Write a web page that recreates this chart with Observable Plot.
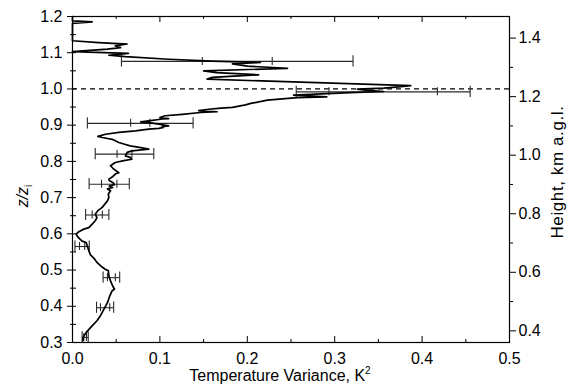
<!DOCTYPE html>
<html>
<head>
<meta charset="utf-8">
<script src="https://cdn.jsdelivr.net/npm/d3@7"></script>
<script src="https://cdn.jsdelivr.net/npm/@observablehq/plot@0.6"></script>
<style>
  html, body { margin: 0; padding: 0; background: #fff; }
  #chart svg { display: block; }
</style>
</head>
<body>
<div id="chart"></div>
<script>
// ---- data ----
const profileZ = [0.305,0.314,0.328,0.341,0.360,0.374,0.392,0.410,0.429,0.443,0.447,0.456,0.470,0.484,0.498,0.503,0.512,0.521,0.533,0.542,0.553,0.567,0.576,0.580,0.590,0.599,0.606,0.613,0.617,0.627,0.636,0.645,0.654,0.664,0.673,0.682,0.691,0.700,0.710,0.719,0.724,0.728,0.732,0.736,0.742,0.747,0.751,0.756,0.765,0.769,0.779,0.788,0.797,0.802,0.806,0.811,0.815,0.825,0.829,0.834,0.838,0.843,0.848,0.852,0.861,0.866,0.869,0.875,0.880,0.884,0.889,0.891,0.894,0.896,0.898,0.903,0.907,0.909,0.912,0.917,0.918,0.921,0.926,0.930,0.935,0.937,0.940,0.944,0.947,0.949,0.956,0.960,0.969,0.976,0.978,0.983,0.987,0.990,0.993,0.996,0.9995,1.002,1.005,1.009,1.027,1.032,1.039,1.045,1.050,1.057,1.063,1.069,1.073,1.077,1.082,1.089,1.093,1.098,1.103,1.110,1.114,1.119,1.124,1.128,1.133,1.181,1.185,1.188,1.200];
const profileVar = [0.012,0.012,0.0157,0.0206,0.028,0.032,0.036,0.040,0.0427,0.0454,0.048,0.046,0.0435,0.0416,0.041,0.037,0.032,0.028,0.0244,0.0206,0.0187,0.0168,0.0157,0.011,0.0065,0.0042,0.0072,0.013,0.0187,0.0225,0.026,0.028,0.026,0.029,0.034,0.037,0.040,0.0416,0.041,0.0435,0.040,0.046,0.042,0.048,0.046,0.042,0.0416,0.045,0.049,0.053,0.047,0.0435,0.049,0.0587,0.068,0.066,0.0606,0.0625,0.068,0.0873,0.078,0.066,0.0587,0.053,0.0454,0.034,0.029,0.0378,0.053,0.072,0.0873,0.0988,0.104,0.1026,0.110,0.0988,0.0873,0.078,0.0873,0.1026,0.110,0.100,0.106,0.1255,0.1465,0.1655,0.1445,0.156,0.170,0.183,0.198,0.204,0.223,0.257,0.291,0.253,0.291,0.318,0.356,0.337,0.326,0.356,0.370,0.387,0.154,0.160,0.213,0.165,0.150,0.246,0.200,0.183,0.215,0.160,0.110,0.0606,0.0416,0.064,0.0,0.040,0.055,0.049,0.0625,0.030,0.0,0.0,0.0225,0.0,0.0];

const errZ      = [0.314, 0.396, 0.479, 0.565, 0.652, 0.737, 0.820, 0.905, 0.992, 1.076];
const errCenter = [0.0145, 0.0373, 0.0445, 0.0110, 0.0283, 0.0420, 0.0595, 0.0775, 0.3555, 0.1885];
const errOuter  = [0.0035, 0.0098, 0.0095, 0.0082, 0.0133, 0.0230, 0.0335, 0.0605, 0.0995, 0.1325];
const errInner  = [0.0015, 0.0053, 0.0045, 0.0030, 0.0058, 0.0088, 0.0085, 0.0110, 0.0620, 0.0400];

const xTicks = [0, 0.1, 0.2, 0.3, 0.4, 0.5];
const xMinorTicks = [0.05, 0.15, 0.25, 0.35, 0.45];
const yTicks = [0.3, 0.4, 0.5, 0.6, 0.7, 0.8, 0.9, 1.0, 1.1, 1.2];
const yMinorTicks = [0.35, 0.45, 0.55, 0.65, 0.75, 0.85, 0.95, 1.05, 1.15];
const heightTicks = [0.4, 0.6, 0.8, 1.0, 1.2, 1.4];
const heightMinorTicks = [0.5, 0.7, 0.9, 1.1, 1.3];
const refLine = [1.0];

// relation between height (km a.g.l.) and z/zi on the right axis
const zAt04 = 0.3322, zPerKm = 0.8082;
const toZ = h => zAt04 + (h - 0.4) * zPerKm;
const toH = z => 0.4 + (z - zAt04) / zPerKm;

const profile = profileZ.map((z, i) => ({z, v: profileVar[i]}));
const errs = errZ.map((z, i) => ({z, c: errCenter[i], o: errOuter[i], n: errInner[i]}));

// ---- layout ----
const W = 568, H = 388, mL = 72, mR = 59, mT = 16, mB = 46;
const fH = H - mT - mB, fW = W - mL - mR;
const capO = 0.0155, capI = 0.011; // cap half-heights in z units
const ink = "#000";
const errInk = "#2a2a2a";

const chart = Plot.plot({
  width: W, height: H,
  marginLeft: mL, marginRight: mR, marginTop: mT, marginBottom: mB,
  style: {fontFamily: "'Liberation Sans', Arial, sans-serif", fontSize: "16px", color: "#000", background: "#fff"},
  x: {domain: [0, 0.5]},
  y: {domain: [0.3, 1.2]},
  marks: [
    // dashed reference line
    Plot.ruleY(refLine, {y: d => d, stroke: ink, strokeWidth: 1.3, strokeDasharray: "5,4"}),
    // error bars
    Plot.link(errs, {x1: d => d.c - d.o, x2: d => d.c + d.o, y1: "z", y2: "z", stroke: errInk, strokeWidth: 1.1}),
    Plot.ruleX(errs, {x: d => d.c - d.o, y1: d => d.z - capO, y2: d => d.z + capO, stroke: errInk, strokeWidth: 1.1}),
    Plot.ruleX(errs, {x: d => d.c + d.o, y1: d => d.z - capO, y2: d => d.z + capO, stroke: errInk, strokeWidth: 1.1}),
    Plot.ruleX(errs, {x: d => d.c - d.n, y1: d => d.z - capI, y2: d => d.z + capI, stroke: errInk, strokeWidth: 1.1}),
    Plot.ruleX(errs, {x: d => d.c + d.n, y1: d => d.z - capI, y2: d => d.z + capI, stroke: errInk, strokeWidth: 1.1}),
    // profile
    Plot.line(profile, {x: "v", y: "z", stroke: ink, strokeWidth: 1.7, curve: "linear"}),
    // inner ticks
    Plot.tickX(xTicks, {x: d => d, insetTop: fH - 6, stroke: ink}),
    Plot.tickX(xMinorTicks, {x: d => d, insetTop: fH - 3, stroke: ink}),
    Plot.tickX(xTicks, {x: d => d, insetBottom: fH - 6, stroke: ink}),
    Plot.tickX(xMinorTicks, {x: d => d, insetBottom: fH - 3, stroke: ink}),
    Plot.tickY(yTicks, {y: d => d, insetRight: fW - 4, stroke: ink}),
    Plot.tickY(yMinorTicks, {y: d => d, insetRight: fW - 4, stroke: ink}),
    // axes
    Plot.axisX({anchor: "bottom", ticks: xTicks, tickSize: 0, tickPadding: 10, tickFormat: d3.format(".1f"), label: null}),
    Plot.axisY({anchor: "left", ticks: yTicks, tickSize: 5, tickPadding: 5, tickFormat: d3.format(".1f"), label: null}),
    Plot.axisY({anchor: "left", ticks: yMinorTicks, tickSize: 2, tickFormat: () => "", label: null}),
    Plot.axisY({anchor: "right", ticks: heightTicks.map(toZ), tickSize: 6, tickPadding: 3, tickFormat: z => d3.format(".1f")(toH(z)), label: null}),
    Plot.axisY({anchor: "right", ticks: heightMinorTicks.map(toZ), tickSize: 3, tickFormat: () => "", label: null}),
    Plot.frame({stroke: ink, strokeWidth: 1.2})
  ]
});

document.getElementById("chart").appendChild(chart);

// axis titles
const svg = d3.select(chart);
const xl = svg.append("text")
  .attr("x", 280).attr("y", 381)
  .attr("text-anchor", "middle")
  .attr("font-size", 16).attr("fill", "#000");
xl.append("tspan").text("Temperature Variance, K");
xl.append("tspan").attr("font-size", 10).attr("dy", -7).text("2");

const yl = svg.append("text")
  .attr("transform", "translate(28,196) rotate(-90)")
  .attr("text-anchor", "middle")
  .attr("font-size", 16).attr("fill", "#000");
yl.append("tspan").attr("font-style", "italic").text("z/z");
yl.append("tspan").attr("font-size", 10).attr("dy", 4).text("i");

svg.append("text")
  .attr("transform", "translate(563,172) rotate(-90)")
  .attr("text-anchor", "middle")
  .attr("font-size", 17).attr("letter-spacing", "0.6px").attr("fill", "#000")
  .text("Height, km a.g.l.");
</script>
</body>
</html>
